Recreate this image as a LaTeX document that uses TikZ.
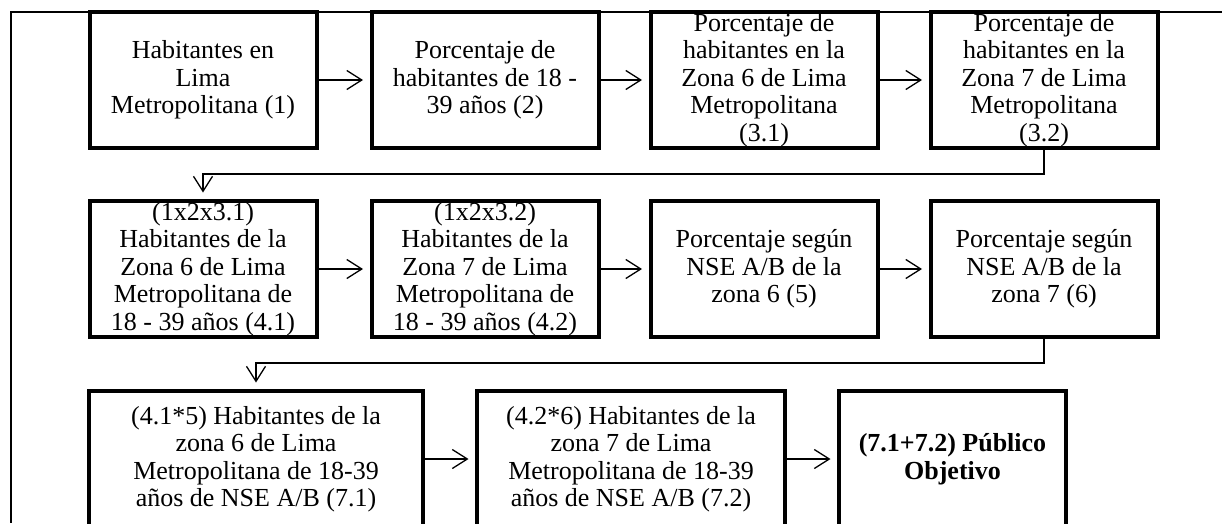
\documentclass[tikz,border=0pt]{standalone}
\usepackage{fontspec}
\setmainfont{Liberation Serif}
\usetikzlibrary{arrows.meta}
\tikzset{boxn/.style={draw,line width=4pt,inner sep=0pt,minimum height=136pt,minimum width=#1,align=center,font=\fontsize{26}{27.5}\selectfont},
  boxn/.default=227pt,
  arr/.style={line width=1.3pt,-{Straight Barb[length=15pt,width=19pt]},shorten >=6.5pt}}

\begin{document}
\begin{tikzpicture}[x=1pt,y=-1pt]
      \pgfmathsetmacro{\rowa}{80}
      \pgfmathsetmacro{\rowb}{269}
      \pgfmathsetmacro{\rowc}{459}
      \useasboundingbox (0,0) rectangle (1222,523);
      \draw[line width=1.3pt] (1222,12) -| (11,523);

      \node[boxn] at (203,\rowa) (hab) {Habitantes en\\Lima\\Metropolitana (1)};
      \node[boxn] at (485,\rowa) (por) {Porcentaje de\\habitantes de 18 -\\39 años (2)};
      \node[boxn] at (764,\rowa) (zsix) {Porcentaje de\\habitantes en la\\Zona 6 de Lima\\Metropolitana\\(3.1)};
      \node[boxn] at (1044,\rowa) (zsev) {Porcentaje de\\habitantes en la\\Zona 7 de Lima\\Metropolitana\\(3.2)};

      \node[boxn] at (203,\rowb) (hsix) {(1x2x3.1)\\Habitantes de la\\Zona 6 de Lima\\Metropolitana de\\18 - 39 años (4.1)};
      \node[boxn] at (485,\rowb) (hsev) {(1x2x3.2)\\Habitantes de la\\Zona 7 de Lima\\Metropolitana de\\18 - 39 años (4.2)};
      \node[boxn] at (764,\rowb) (nsix) {Porcentaje según\\NSE A/B de la\\zona 6 (5)};
      \node[boxn] at (1044,\rowb) (nsev) {Porcentaje según\\NSE A/B de la\\zona 7 (6)};

      \node[boxn=334pt] at (256,\rowc) (psix) {(4.1*5) Habitantes de la\\zona 6 de Lima\\Metropolitana de 18-39\\años de NSE A/B (7.1)};
      \node[boxn=308pt] at (631,\rowc) (psev) {(4.2*6) Habitantes de la\\zona 7 de Lima\\Metropolitana de 18-39\\años de NSE A/B (7.2)};
      \node[boxn] at (952.5,\rowc) (obj) {\textbf{(7.1+7.2) Público}\\\textbf{Objetivo}};

      \draw[arr] (hab) -- (por);
      \draw[arr] (por) -- (zsix);
      \draw[arr] (zsix) -- (zsev);
      \draw[arr] (zsev.south) -- ++(0,24) -| (hsix.north);
      \draw[arr] (hsix) -- (hsev);
      \draw[arr] (hsev) -- (nsix);
      \draw[arr] (nsix) -- (nsev);
      \draw[arr] (nsev.south) -- ++(0,24) -| (psix.north);
      \draw[arr] (psix) -- (psev);
      \draw[arr] (psev) -- (obj);
    \end{tikzpicture}
\end{document}
